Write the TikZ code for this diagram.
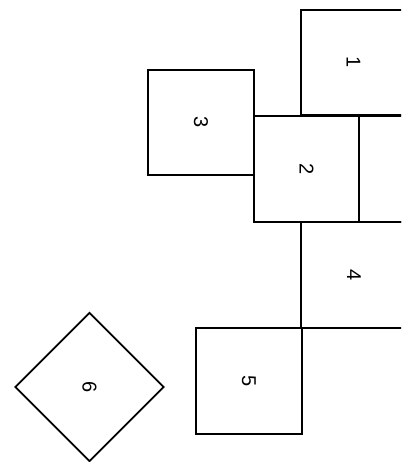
\documentclass[tikz,border=0pt]{standalone}
\usepackage{fontspec}
\setmainfont{Liberation Sans}
\usetikzlibrary{shapes.geometric}
\begin{document}
\begin{tikzpicture}[x=1pt,y=-1pt,
  tile/.style={draw,line width=1.8pt,rectangle,minimum size=105.5pt,inner sep=0pt,
    rotate=-90,font=\fontsize{20}{20}\selectfont},
  gem/.style={draw,line width=1.8pt,diamond,aspect=1,minimum width=149pt,minimum height=149pt,
    inner sep=0pt,rotate=-90,font=\fontsize{20}{20}\selectfont}]
  \useasboundingbox (0,0) rectangle (401,462);
  \clip (0,0) rectangle (401,462);
  % column of tiles along the right edge
  \node[tile] (t1) at (353.5,62.5) {1};
  \node[tile] (t2) at (306.5,169) {2};
  \node[tile] (t2r) at (411.5,169) {};
  \node[tile] (t3) at (201,122.5) {3};
  \node[tile] (t4) at (354,275) {4};
  \node[tile] (t5) at (249,381) {5};
  % the tilted one
  \node[gem] (t6) at (89.5,387) {6};
\end{tikzpicture}
\end{document}
